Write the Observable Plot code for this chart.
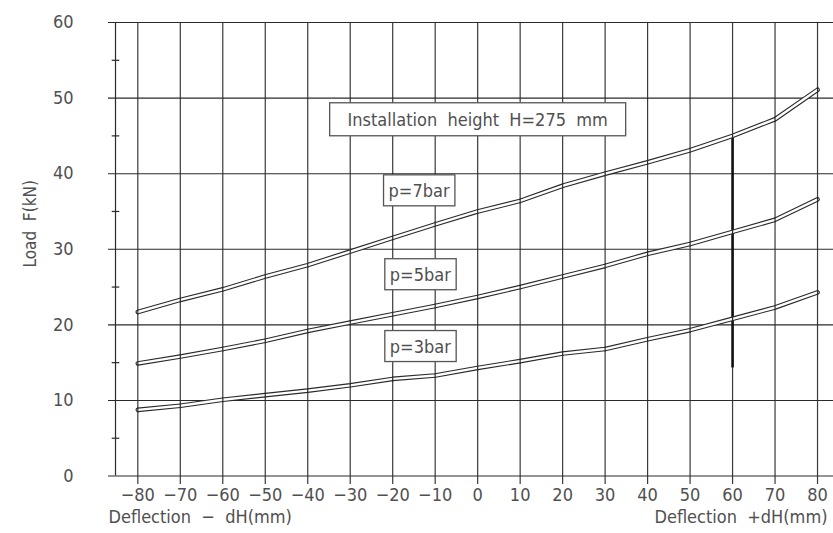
<!DOCTYPE html>
<html>
<head>
<meta charset="utf-8">
<script src="https://cdn.jsdelivr.net/npm/d3@7"></script>
<script src="https://cdn.jsdelivr.net/npm/@observablehq/plot@0.6"></script>
<style>
  html, body { margin: 0; padding: 0; background: #fff; }
  svg { display: block; }
</style>
</head>
<body>
<div id="chart"></div>
<script>
// ---- data ----
const deflection = [-80, -70, -60, -50, -40, -30, -20, -10, 0, 10, 20, 30, 40, 50, 60, 70, 80];
const load7bar = [21.7, 23.3, 24.7, 26.4, 27.9, 29.7, 31.5, 33.3, 35.0, 36.4, 38.4, 40.0, 41.5, 43.1, 45.0, 47.2, 51.1];
const load5bar = [14.9, 15.8, 16.8, 17.9, 19.2, 20.3, 21.4, 22.5, 23.7, 25.0, 26.4, 27.8, 29.4, 30.7, 32.3, 33.9, 36.6];
const load3bar = [8.75, 9.3, 10.1, 10.7, 11.3, 12.0, 12.85, 13.3, 14.3, 15.2, 16.2, 16.8, 18.1, 19.3, 20.8, 22.3, 24.3];
const xTicks = [-80, -70, -60, -50, -40, -30, -20, -10, 0, 10, 20, 30, 40, 50, 60, 70, 80];
const yTicks = [0, 10, 20, 30, 40, 50, 60];
const yMinor = [5, 15, 25, 35, 45, 55];
const seriesNames = ["p=7bar", "p=5bar", "p=3bar"];
const labelX = [-13.8, -13.5, -13.5];
const labelY = [37.7, 26.6, 17.1];
const titleText = "Installation  height  H=275  mm";
const titleX = 0;
const titleY = 47.1;
const markerX = 60;
const markerY1 = 14.3;
const markerY2 = 45.0;

// ---- build tables ----
const seriesVals = [load7bar, load5bar, load3bar];
const rows = [];
seriesNames.forEach((s, i) => deflection.forEach((x, j) => rows.push({series: s, x, y: seriesVals[i][j]})));
const labels = seriesNames.map((s, i) => ({text: s, x: labelX[i], y: labelY[i]}));

const FONT = "'DejaVu Sans Condensed', 'Liberation Sans Narrow', 'DejaVu Sans', sans-serif";
const INK = "#2a2a2a";
const TXT = "#505050";
const FS = 18;

const plot = Plot.plot({
  width: 833,
  height: 533,
  marginLeft: 108,
  marginRight: 0,
  marginTop: 22,
  marginBottom: 49,
  style: {fontFamily: FONT, fontSize: FS + "px", color: TXT, background: "#fff"},
  x: {domain: [-86.9, 83.76]},
  y: {domain: [-1.12, 60]},
  marks: [
    Plot.ruleX(xTicks, {stroke: "#3a3a3a", strokeWidth: 1.2}),
    Plot.ruleY(yTicks, {stroke: "#2a2a2a", strokeWidth: 1.1}),
    Plot.ruleX([-85.25], {y1: 0, y2: 60, stroke: "#2a2a2a", strokeWidth: 1.2}),
    Plot.ruleY(yMinor, {x1: -86.03, x2: -84.24, stroke: "#2a2a2a", strokeWidth: 1.2}),
    Plot.axisX({ticks: xTicks, tickSize: 0, tickPadding: 4, label: null, fontSize: FS, fill: TXT}),
    Plot.axisY({ticks: yTicks, tickSize: 0, tickPadding: 35, label: null, fontSize: FS, fill: TXT}),
    Plot.ruleX([markerX], {y1: markerY1, y2: markerY2, stroke: "#111", strokeWidth: 2.6}),
    Plot.line(rows, {x: "x", y: "y", z: "series", stroke: INK, strokeWidth: 4.6}),
    Plot.line(rows, {x: "x", y: "y", z: "series", stroke: "#fff", strokeWidth: 2.4}),
    Plot.link(rows, {x1: "x", x2: "x", y1: d => d.y - 0.33, y2: d => d.y + 0.33, stroke: INK, strokeWidth: 1.2}),
    Plot.text(labels, {x: "x", y: "y", text: "text", fontSize: FS, fill: TXT, ariaDescription: "boxlabel-small"}),
    Plot.text([titleText], {x: [titleX], y: [titleY], text: d => d, fontSize: FS, fill: TXT, ariaDescription: "boxlabel-big"}),
    Plot.text(["Deflection  −  dH(mm)"], {frameAnchor: "bottom-left", textAnchor: "start", dy: 38, fontSize: FS, fill: TXT}),
    Plot.text(["Deflection  +dH(mm)"], {frameAnchor: "bottom-right", textAnchor: "end", dx: -6, dy: 38, fontSize: FS, fill: TXT}),
    Plot.text(["Load  F(kN)"], {frameAnchor: "left", rotate: -90, dx: -78, dy: 14, fontSize: 17, fill: TXT})
  ]
});

document.getElementById("chart").appendChild(plot);

function boxify(desc, padX, padY, minW, minH) {
  const g = plot.querySelector(`g[aria-description="${desc}"]`);
  if (!g) return;
  g.querySelectorAll("text").forEach(t => {
    const b = t.getBBox();
    const w = Math.max(b.width + 2 * padX, minW);
    const h = Math.max(b.height + 2 * padY, minH);
    const cx = b.x + b.width / 2, cy = b.y + b.height / 2;
    const r = document.createElementNS("http://www.w3.org/2000/svg", "rect");
    r.setAttribute("x", cx - w / 2);
    r.setAttribute("y", cy - h / 2);
    r.setAttribute("width", w);
    r.setAttribute("height", h);
    r.setAttribute("fill", "#fff");
    r.setAttribute("stroke", "#555");
    r.setAttribute("stroke-width", "1.3");
    const tr = t.getAttribute("transform");
    if (tr) r.setAttribute("transform", tr);
    t.parentNode.insertBefore(r, t);
  });
}
boxify("boxlabel-small", 5, 5, 63, 29);
boxify("boxlabel-big", 10, 6, 296, 33);
</script>
</body>
</html>
